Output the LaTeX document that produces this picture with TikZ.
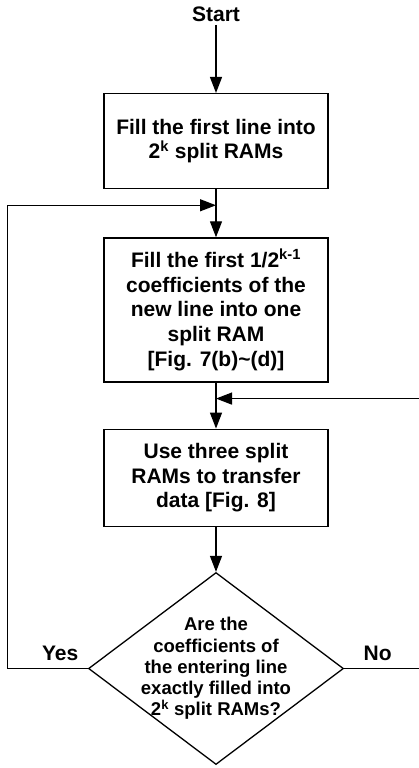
\documentclass[tikz,border=0pt]{standalone}
\usepackage{fontspec}
\setmainfont{Liberation Sans}
\usepackage{tikz}
\usetikzlibrary{arrows.meta, positioning, shapes.geometric}

\begin{document}
\begin{tikzpicture}[x=1pt, y=-1pt,
		font=\bfseries,
		box/.style={draw, line width=1.3pt, align=center, minimum width=224pt, inner sep=2pt,
			font=\fontsize{21}{24.7}\selectfont\bfseries},
		decision/.style={draw, diamond, line width=1.3pt, align=center, inner sep=-15pt, shape aspect=1.33,
			minimum width=255pt, minimum height=192pt, font=\fontsize{18.5}{21.3}\selectfont\bfseries},
		lbl/.style={font=\fontsize{21}{24}\selectfont\bfseries},
		arrow/.style={-{Triangle[length=16pt, width=12pt]}, line width=1.3pt}
		]
		
		\useasboundingbox (0,0) rectangle (419,768);
		
		% Nodes
		\node[lbl] (start) at (216,14) {Start};
		
		\node[box, minimum height=95pt, below=68pt of start.south, anchor=north] (fill) {Fill the first line into\\
			2\textsuperscript{k} split RAMs};
		
		\node[box, minimum height=144pt, below=48pt of fill] (part) {Fill the first 1/2\textsuperscript{k-1}\\
			coefficients of the\\
			new line into one\\
			split RAM\\
			{[Fig. 7(b)\textasciitilde(d)]}};
		
		\node[box, minimum height=97pt, below=46pt of part] (move) {Use three split\\
			RAMs to transfer\\
			data [Fig. 8]};
		
		\node[decision, below=45pt of move] (check) {Are the\\
			coefficients of\\
			the entering line\\
			exactly filled into\\
			2\textsuperscript{k} split RAMs?};
		
		\node[lbl, above left=4.7pt and 6pt of check.west] (yes) {Yes};
		\node[lbl, above right=4.7pt and 16pt of check.east] (no) {No};
		
		\coordinate[below=16pt of fill.south] (join1);
		\coordinate[below=16pt of part.south] (join2);
		
		% Arrows
		\draw[arrow] (start) -- (fill);
		\draw[arrow] (fill) -- (part);
		\draw[arrow] (part) -- (move);
		\draw[arrow] (move) -- (check);
		\draw[arrow] (check.west) -- ++(-80.5,0) |- (join1);
		\draw[arrow] (check.east) -- ++(76,0) |- (join2);
		
	\end{tikzpicture}
\end{document}
